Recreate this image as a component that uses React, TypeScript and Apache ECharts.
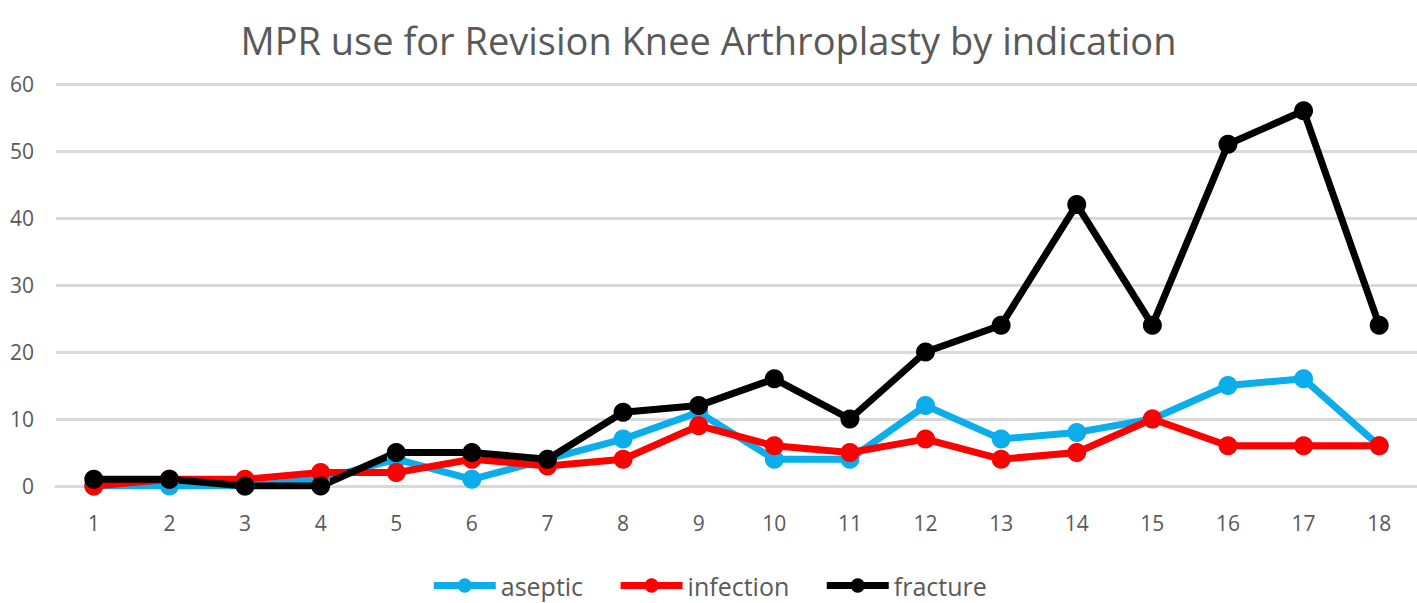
import React, { useEffect, useRef } from "react";
import * as echarts from "echarts";

const categories = ["1","2","3","4","5","6","7","8","9","10","11","12","13","14","15","16","17","18"];
const aseptic = [0, 0, 0, 1, 4, 1, 4, 7, 11, 4, 4, 12, 7, 8, 10, 15, 16, 6];
const infection = [0, 1, 1, 2, 2, 4, 3, 4, 9, 6, 5, 7, 4, 5, 10, 6, 6, 6];
const fracture = [1, 1, 0, 0, 5, 5, 4, 11, 12, 16, 10, 20, 24, 42, 24, 51, 56, 24];

export default function App() {
  const ref = useRef<HTMLDivElement>(null);
  useEffect(() => {
    if (!ref.current) return;
    const chart = echarts.init(ref.current, undefined, { renderer: "svg" });
    const font = "Open Sans, Noto Sans, sans-serif";
    const mk = (name: string, data: number[], color: string) => ({
      name,
      type: "line",
      data,
      symbol: "circle",
      symbolSize: 19,
      itemStyle: { color },
      lineStyle: { color, width: 7 },
    });
    chart.setOption({
      animation: false,
      backgroundColor: "#ffffff",
      title: {
        text: "MPR use for Revision Knee Arthroplasty by indication",
        left: "center",
        top: 16,
        textStyle: { color: "#595959", fontSize: 38, fontWeight: "normal", fontFamily: font },
      },
      legend: {
        bottom: 0,
        left: "center",
        itemWidth: 62,
        itemHeight: 18,
        itemGap: 34,
        lineStyle: { width: 7 },
        textStyle: { color: "#595959", fontSize: 25, fontFamily: font },
        data: ["aseptic", "infection", "fracture"],
      },
      grid: { left: 56, right: -1, top: 84, bottom: 117, containLabel: false },
      xAxis: {
        type: "category",
        data: categories,
        boundaryGap: true,
        axisLine: { lineStyle: { color: "#d9d9d9", width: 3 } },
        axisTick: { show: false },
        axisLabel: { color: "#595959", fontSize: 21, fontFamily: font, margin: 26 },
      },
      yAxis: {
        type: "value",
        min: 0,
        max: 60,
        interval: 10,
        axisLine: { show: false },
        axisTick: { show: false },
        axisLabel: { color: "#595959", fontSize: 21, fontFamily: font, margin: 22 },
        splitLine: { lineStyle: { color: "#d9d9d9", width: 3 } },
      },
      series: [
        mk("aseptic", aseptic, "#0BAEEB"),
        mk("infection", infection, "#FF0000"),
        mk("fracture", fracture, "#000000"),
      ],
    });
    return () => chart.dispose();
  }, []);
  return (
    <div
      ref={ref}
      style={{ position: "fixed", left: 0, top: 0, width: 1417, height: 603 }}
    />
  );
}
